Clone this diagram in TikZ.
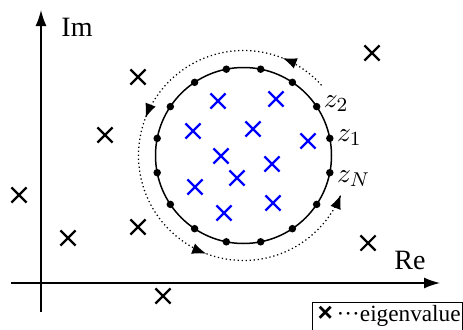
\documentclass[tikz,border=0pt]{standalone}
\usepackage{fontspec}
\setmainfont{Liberation Serif}
\newfontfamily\keysans{Liberation Sans}
\usetikzlibrary{arrows.meta,shapes.misc,decorations.markings}

\begin{document}
\begin{tikzpicture}[x=4pt, y=4pt, >={Latex[length=6.4pt,width=4.4pt]},
  font=\fontsize{11.2}{13}\selectfont,
  ev/.style={cross out, draw, line width=0.85pt, minimum size=5.2pt, inner sep=0pt},
  pt/.style={circle, fill, inner sep=0pt, minimum size=3pt},
  flow/.style={dash pattern=on 0.5pt off 1.1pt, line width=0.5pt, postaction={decorate}}]
  \useasboundingbox (-4.1,-4.6) rectangle (42.2,28.3);
  % axes
  \draw[line width=0.6pt, ->] (-3,0) -- (39.9,0);
  \draw[line width=0.6pt, ->] (0,-2.9) -- (0,27.3);
  \node (im) at (3.6,25.6) {Im};
  \node (re) at (36.9,2.3) {Re};
  % contour and quadrature points
  \coordinate (c) at (20.25,12.75);
  \draw[line width=0.6pt] (c) circle (8.8);
  \foreach \k in {1,...,16}
    \path (c) ++({11.25+22.5*(\k-1)}:8.8) node[pt] (z\k) {};
  \node[anchor=west, inner sep=1pt, yshift=1.2pt] (lz2) at (z2.east) {$z_2$};
  \node[anchor=west, inner sep=1pt, yshift=0.4pt] (lz1) at (z1.east) {$z_1$};
  \node[anchor=west, inner sep=1pt, yshift=-2.4pt] (lzN) at (z16.east) {$z_N$};
  % direction of integration
  \draw[flow, decoration={markings,
      mark=at position 0.088 with {\arrow[solid]{Latex[length=5.6pt,width=4.4pt]}},
      mark=at position 0.395 with {\arrow[solid]{Latex[length=5.6pt,width=4.4pt]}},
      mark=at position 0.70 with {\arrow[solid]{Latex[length=5.6pt,width=4.4pt]}},
      mark=at position 1 with {\arrow[solid]{Latex[length=5.6pt,width=4.4pt]}}}]
    ([shift={(42:10.5)}]c) arc (42:338:10.5);
  % eigenvalues inside
  \foreach \p [count=\i] in {(17.7,18.2),(23.5,18.4),(15.2,15.2),(21.2,15.4),
      (26.7,14.2),(18.0,12.7),(23.1,11.9),(19.6,10.5),(15.4,9.6),(18.3,7.0),(23.2,8.0)}
    \node[ev, blue] (in\i) at \p {};
  % eigenvalues outside
  \foreach \p [count=\i] in {(9.7,20.6),(33.1,23.0),(6.4,14.8),(-2.2,8.8),
      (2.7,4.5),(9.7,5.6),(32.7,4.0),(12.2,-1.3)}
    \node[ev] (out\i) at \p {};
  % key
  \node[draw, line width=0.4pt, anchor=north west, inner xsep=2pt, inner ysep=1.2pt,
    text width=56pt, align=left, text depth=6pt,
    font=\fontsize{9.3}{11}\selectfont] (key) at (27.1,-1.9)
    {{\keysans\bfseries\fontsize{10.5}{11}\selectfont ×}\,···eigenvalue};
\end{tikzpicture}
\end{document}
